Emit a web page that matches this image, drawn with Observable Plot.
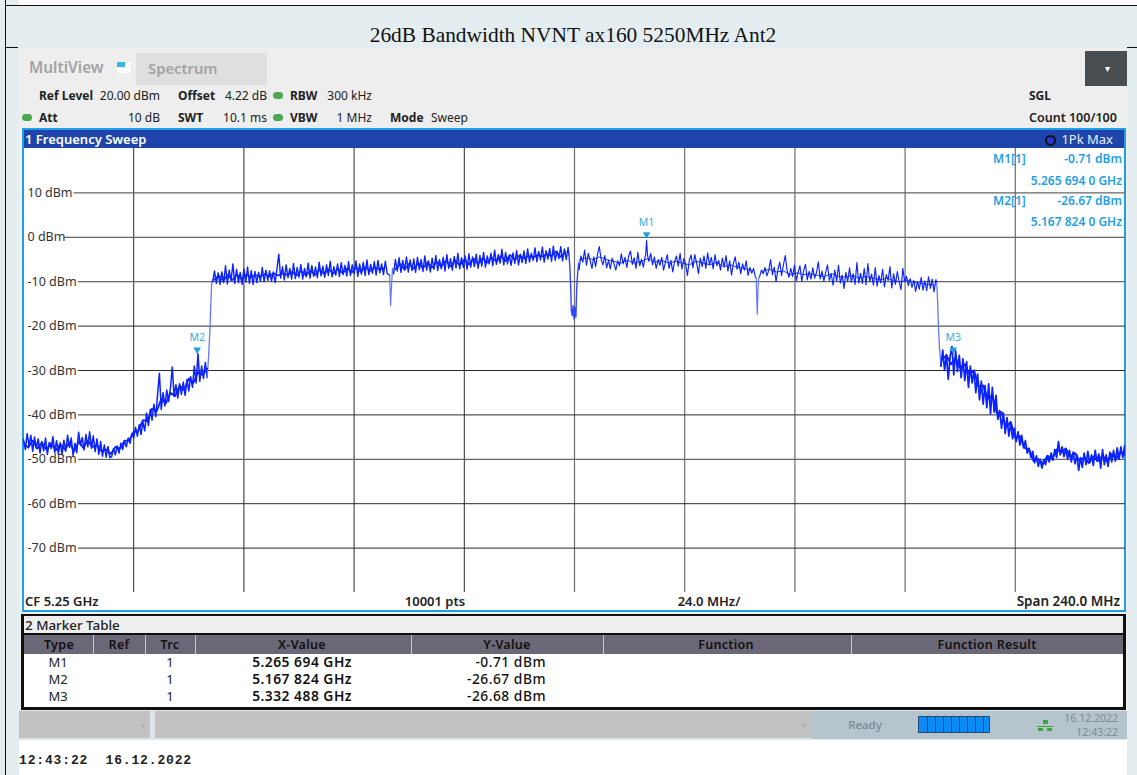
<!DOCTYPE html>
<html>
<head>
<meta charset="utf-8">
<script src="https://cdn.jsdelivr.net/npm/d3@7"></script>
<script src="https://cdn.jsdelivr.net/npm/@observablehq/plot@0.6"></script>
<style>
html,body{margin:0;padding:0;background:#fff;}
#page{position:relative;width:1137px;height:775px;overflow:hidden;font-family:"Noto Sans",sans-serif;font-size:12px;color:#222;}
#page div.b{position:absolute;}
#page div.t{position:absolute;white-space:pre;}
#chart{position:absolute;left:23px;top:148px;width:1102px;height:444px;}
#chart svg{display:block;}
</style>
</head>
<body>
<div id="page"></div>
<script>
// ---- Sweep setup
const freqDomain = [5130, 5370];
const levelDomain = [-80, 20];
const step = 0.4;

// ---- Trace excursions (dBm), one list per stretch of the sweep
const noiseStart = 5130;
const noiseLevels = [-45.5,-47.8,-44.2,-47,-44.6,-48.2,-45,-47.5,-45.4,-48.6,-46,-48.1,-45.2,-48.9,-46.2,-47.6,-44.9,-48.4,-45.8,-48.8,-46.3,-48.9,-45.7,-48.2,-44.6,-47.3,-45.2,-49.1,-46.4,-48.5,-43.9,-46.8,-45.1,-47.9,-44.4,-47.2,-43.8,-47.5,-44.7,-48.3,-45.4,-48.9,-46,-49.3,-46.8,-49.5,-47.1,-49.6];
const rampStart = 5149.2;
const rampLevels = [-49.4,-47.6,-49.0,-47.0,-48.6,-46.4,-47.8,-45.8,-47.2,-45.2,-46.4,-44.2,-45.2,-42.8,-44.8,-42.2,-44.4,-41.6,-43.6,-39.6,-42.4,-38.8,-41.2,-37.6,-40.4,-35.4,-30.6,-38.8,-35.0,-38.0,-34.4,-37.0,-34.0,-29.2,-35.8,-33.2,-36.2,-33.0,-35.4,-32.6,-35.6,-32.0,-34.6,-31.4,-33.8,-29.0,-32.8,-26.2,-32.4,-29.0,-31.8,-28.2];
const edgeLeftFreq = [5170, 5170.3, 5170.6, 5170.8, 5171];
const edgeLeftLevels = [-31.6, -27, -21, -15, -9.8];
const plateauAStart = 5171.2;
const plateauALevels = [-10.0,-7.6,-10.4,-8.0,-10.6,-7.8,-10.2,-6.4,-10.5,-7.4,-9.8,-6.0,-10.4,-7.2,-10.2,-7.9,-10.6,-7.1,-10.1,-6.7,-10.4,-7.5,-10.6,-7.7,-10.2,-7.9,-9.9,-6.8,-10.0,-7.4,-9.7,-7.5,-9.9,-7.8,-10.2,-7.1,-3.8,-9.2,-6.6,-9.6,-6.2,-9.1,-7.0,-9.4,-5.9,-9.3,-6.8,-9.0,-6.1,-9.4,-7.0,-8.9,-5.8,-9.2,-6.4,-8.8,-6.7,-9.1,-5.6,-8.7,-6.5,-9.0,-6.2,-8.6,-5.4,-8.9,-6.6,-8.5,-6.0,-8.8,-5.7,-8.4,-6.3,-8.7,-5.5,-8.6,-6.2,-8.2,-5.3,-8.8,-6.0,-8.3,-5.6,-8.6,-5.1,-8.4,-6.1,-8.1,-5.5,-8.5,-5.2,-8.0,-6.0,-8.4,-5.4,-8.1];
const notchAFreq = [5209.75, 5209.95, 5210.15, 5210.35];
const notchALevels = [-8.6, -15.4, -11, -7];
const plateauBStart = 5210.6;
const plateauBLevels = [-8.2,-5.0,-7.6,-4.6,-7.9,-5.2,-7.4,-4.4,-7.8,-5.1,-7.5,-4.9,-7.9,-4.5,-7.3,-5.0,-7.7,-4.2,-7.4,-5.3,-7.8,-4.7,-7.2,-4.1,-7.5,-5.0,-7.1,-4.5,-7.6,-3.9,-7.0,-4.8,-7.4,-4.3,-6.9,-3.6,-7.1,-4.6,-6.8,-4.2,-7.2,-3.7,-6.7,-4.4,-6.6,-3.8,-7.0,-4.1,-6.5,-3.4,-6.7,-4.2,-6.0,-3.6,-6.4,-2.9,-6.1,-3.9,-5.8,-2.7,-6.2,-3.4,-6.0,-4.0,-6.3,-3.5,-5.9,-3.0,-6.2,-3.8,-5.7,-3.1,-5.9,-2.6,-5.6,-3.6,-5.2,-2.4,-5.5,-3.2,-5.1,-2.2,-5.6,-3.0,-4.9,-2.5,-5.4,-2.0,-5.2,-3.1,-4.8,-2.1,-5.3,-2.6,-5.0,-2.3];
const notchBFreq = [5248.8, 5249.0, 5249.2, 5249.3, 5249.5, 5249.7, 5249.9, 5250.1, 5250.3, 5250.5, 5250.7, 5250.9];
const notchBLevels = [-4, -7, -12, -16.5, -17.6, -15.4, -18.4, -15.8, -18, -11, -8, -5.8];
const plateauCStart = 5251;
const plateauCLevels = [-7.2,-4.2,-5.6,-2.9,-6.3,-3.6,-5.2,-7.0,-4.4,-6.6,-3.9,-2.1,-5.0,-6.2,-4.1,-6.9,-5.2,-7.1,-4.7,-6.0,-7.4,-5.3,-6.4,-3.7,-6.0,-4.5,-6.8,-4.2,-3.1,-6.1,-4.6,-7.0,-3.4,-6.4,-5.0,-6.7,-4.3];
const peakFreq = [5265.5, 5265.694, 5265.9];
const peakLevels = [-4, -0.71, -4];
const plateauDStart = 5266.2;
const plateauDLevels = [-5.4,-3.6,-6.2,-4.4,-7.0,-5.0,-6.3,-4.5,-7.4,-5.6,-3.9,-7.0,-5.2,-7.8,-5.5,-4.2,-6.5,-3.6,-7.2,-4.8,-6.0,-8.6,-5.1,-4.0,-6.9,-3.9,-5.8,-8.2,-4.7,-6.6,-4.2,-7.0,-3.5,-6.2,-4.5,-7.1,-3.9,-6.4,-5.2,-7.4,-4.7,-6.7,-4.1,-7.6,-5.3,-8.5,-5.9,-4.4,-7.2,-5.6,-8.2,-6.0,-7.4,-5.3,-8.6,-6.8,-8.1,-7.0,-9.0];
const notchCFreq = [5289.55, 5289.8, 5290.05];
const notchCLevels = [-9, -17.3, -9.5];
const plateauEStart = 5290.3;
const plateauELevels = [-8.9,-7.4,-8.2,-6.8,-8.7,-7.5,-5.0,-8.4,-6.7,-10.0,-7.3,-5.6,-8.6,-6.2,-4.1,-7.5,-9.0,-7.0,-8.8,-6.3,-9.8,-7.9,-6.4,-9.9,-7.5,-6.1,-9.6,-7.7,-9.4,-6.9,-9.2,-8.0,-5.5,-9.4,-7.6,-9.9,-7.9,-6.2,-9.7,-8.2,-10.8,-7.4,-9.9,-6.3,-10.3,-8.5,-11.5,-7.9,-10.0,-6.9,-10.1,-8.2,-10.6,-5.7,-10.3,-8.1,-10.4,-7.0,-10.7,-5.9,-10.0,-8.3,-10.8,-6.8,-11.0,-8.6,-10.3,-7.2,-11.2,-8.4,-9.7,-6.6,-11.4,-8.2,-10.6,-7.7,-9.9,-11.8,-7.0,-10.0,-8.8,-10.9,-9.3,-11.3,-9.7,-12.2,-10.0,-11.7,-9.0,-11.9,-9.8,-12.0,-8.9,-11.5,-9.4,-12.3,-9.5];
const edgeRightFreq = [5328.9, 5329.1, 5329.3, 5329.5];
const edgeRightLevels = [-10.2, -15, -21, -25];
const falloffStart = 5329.8;
const falloffLevels = [-29.0,-25.4,-30.0,-26.4,-32.0,-26.8,-24.6,-31.0,-25.6,-30.2,-26.6,-31.6,-27.4,-32.3,-28.0,-33.8,-29.0,-32.8,-30.0,-35.0,-30.8,-36.6,-32.4,-37.6,-33.4,-38.4,-33.0,-39.8,-33.8,-39.4,-35.6,-41.0,-39.0,-43.0,-39.6,-44.2,-40.6,-44.8,-41.8,-45.4,-43.0,-46.0,-43.8,-46.8,-44.6,-47.4,-45.8,-48.6,-47.5,-49.6,-48.2,-50.8,-49.2,-51.6,-50,-52,-50.2,-51.2,-49.2,-50.6,-48.6,-50.2,-47.8,-49.6,-46.0,-49.0,-47.2,-49.4,-47.6,-50.0,-48.0,-50.6,-48.4,-51.0,-49.0,-52.5,-49.6,-51.8,-48.6,-51.2,-48.2,-50.8,-49.0,-51.4,-48.0,-50.4,-48.8,-52,-47.8,-51.2,-49,-51.6,-48.4,-50.6,-48.0,-50.4,-47.4,-50.0,-47.2,-49.6,-47,-50.7];

// ---- Dense body of the trace (dBm), per MHz or per 1.5 MHz
const bodyLeftStart = 5130;
const bodyLeftLevels = [-46.2,-47.4,-45.8,-47.6,-46.2,-47.8,-46.4,-48,-46.6,-47.8,-46.2,-48.2,-46,-47.4,-45.8,-47.2,-46.8,-48.2,-47.8,-48.8,-47.2,-47.6,-45.8,-45.8,-43.8,-43.6,-41.2,-41.4,-38.6,-39.2,-36.4,-37.4,-35,-35.8,-33.4,-34.4,-31.8,-32.8,-30.4,-31,-29.6];
const bodyAStart = 5171.5;
const bodyALevels = [-9.6,-8.6,-9.8,-8.5,-9.6,-8.3,-9.5,-8.4,-9.0,-8.5,-8.9,-8.3,-8.8,-8.1,-8.6,-8.1,-8.5,-7.8,-8.6,-7.6,-8.6,-7.5,-8.5,-7.3,-8.3,-7.2,-8.2,-7.1,-8.1,-7.0,-7.9,-6.8,-7.8,-6.7,-7.6,-6.8,-7.2,-7.0];
const bodyBStart = 5211;
const bodyBLevels = [-7.2,-6.0,-7.3,-5.9,-7.1,-5.8,-7.0,-5.6,-6.8,-5.5,-6.6,-5.3,-6.5,-5.2,-6.3,-5.0,-6.1,-4.8,-6.0,-4.7,-5.7,-4.5,-5.5,-4.2,-5.3,-4.0,-5.1,-4.1,-4.7,-4.2,-4.5,-4.0,-4.3,-3.8,-4.2,-3.2,-4.4,-3.3];
const bodyCStart = 5251;
const bodyCLevels = [-5.2,-4.6,-5,-4.4,-5,-5.4,-5.8,-5.2,-5.8,-5.4,-4.8,-5.6,-5.2,-5.8,-5.4,-5.8,-6.2,-5.4,-5.8,-6.2,-5.6,-6.6,-6.2,-6.8,-7,-7.4];
const bodyDStart = 5291;
const bodyDLevels = [-7.6,-7.2,-7.8,-7.6,-8.4,-8,-8.4,-8.2,-8.6,-8.8,-8.2,-8.8,-9,-8.6,-9.2,-8.8,-9.2,-9.6,-9.2,-9.8,-10,-9.6,-10.2,-10.4,-10.6,-10.8];
const bodyFallStart = 5330;
const bodyFallLevels = [-27.6,-26.6,-28.6,-27.2,-29.4,-28.6,-30.8,-30,-33.6,-33.4,-36.4,-35.6,-39.6,-39.4,-42.8,-41.6,-45.2,-44.8,-47.4,-47.8,-50.4,-50,-51,-49.2,-49.8,-47.8,-48.4,-47.6,-49.4,-48.6,-50.4,-49.6,-50.8,-49.4,-50.4,-49.2,-50.4,-48.8,-49.8,-48.4,-49.2];

// ---- Markers
const markerNames = ["M1", "M2", "M3"];
const markerGHz = ["5.265 694 GHz", "5.167 824 GHz", "5.332 488 GHz"];
const markerFreq = [5265.694, 5167.824, 5332.488];
const markerLevel = [-0.71, -26.67, -26.68];
const markerLevelText = ["-0.71 dBm", "-26.67 dBm", "-26.68 dBm"];

// ---- Grid
const levelTicks = [10, 0, -10, -20, -30, -40, -50, -60, -70];
const levelTicksDark = [-20, -30, -40, -60, -70];
const levelTicksGrey = [10, 0, -10, -50];
const freqTicksDark = [5154, 5178, 5202, 5226];
const freqTicksGrey = [5250, 5274, 5298, 5322, 5346];

const run = (start, levels, st = step) => levels.map((y, i) => ({f: start + i * st, y}));
const pts = (fs, levels) => fs.map((f, i) => ({f, y: levels[i]}));
const markers = markerNames.map((name, i) => ({name, f: markerFreq[i], y: markerLevel[i]}));
const gridStart = d => d === 0 ? 5139 : d > 0 ? 5141 : 5142;
const traceBlue = "#0a22ff", edgeBlue = "#6478ff";
const seg = (data, w, c = traceBlue) => Plot.line(data, {x: "f", y: "y", stroke: c, strokeWidth: w, curve: "linear"});

// one continuous sweep, its stretches joined end to end, dense ones drawn heavier
const stretches = [
  {data: [...run(noiseStart, noiseLevels), ...run(rampStart, rampLevels)], w: 1.5, c: traceBlue},
  {data: pts(edgeLeftFreq, edgeLeftLevels), w: 1.3, c: edgeBlue},
  {data: run(plateauAStart, plateauALevels), w: 1.4, c: traceBlue},
  {data: pts(notchAFreq, notchALevels), w: 1.2, c: edgeBlue},
  {data: run(plateauBStart, plateauBLevels), w: 1.4, c: traceBlue},
  {data: pts(notchBFreq, notchBLevels), w: 1.4, c: "#3048ff"},
  {data: [...run(plateauCStart, plateauCLevels), ...pts(peakFreq, peakLevels), ...run(plateauDStart, plateauDLevels)], w: 1.15, c: traceBlue},
  {data: pts(notchCFreq, notchCLevels), w: 1.2, c: edgeBlue},
  {data: run(plateauEStart, plateauELevels), w: 1.15, c: traceBlue},
  {data: pts(edgeRightFreq, edgeRightLevels), w: 1.3, c: edgeBlue},
  {data: run(falloffStart, falloffLevels), w: 1.7, c: traceBlue}
];
const traceMarks = stretches.map((s, i) =>
  seg(i < stretches.length - 1 ? [...s.data, stretches[i + 1].data[0]] : s.data, s.w, s.c));

const page = document.getElementById("page");
const box = (x, y, w, h, bg, extra = "") => {
  const e = document.createElement("div");
  e.className = "b";
  e.style.cssText = `left:${x}px;top:${y}px;width:${w}px;height:${h}px;background:${bg};${extra}`;
  page.appendChild(e);
  return e;
};
// text: x is the left edge, or the right edge with align "r", or the centre with align "c"; y is the text's middle
const txt = (s, x, y, o = {}) => {
  const e = document.createElement("div");
  e.className = "t";
  e.textContent = s;
  const lh = o.lh || 16;
  const tf = o.align === "r" ? "translateX(-100%)" : o.align === "c" ? "translateX(-50%)" : "none";
  e.style.cssText = `left:${x}px;top:${y - lh / 2}px;height:${lh}px;line-height:${lh}px;transform:${tf};font-size:${o.size || 12}px;font-weight:${o.w || 400};color:${o.c || "#222"};${o.css || ""}`;
  page.appendChild(e);
};

// ---- Page surround
const surround = "#e4eef1";
box(0, 0, 19, 775, surround);
box(0, 5, 1137, 43, surround);
box(1127, 5, 10, 770, surround);
box(5, 0, 1, 775, "#111");
box(5, 5, 1132, 1, "#111");
box(5, 47, 13, 1, "#111");
box(1127, 47, 10, 1, "#111");
txt("26dB Bandwidth NVNT ax160 5250MHz Ant2", 573, 35, {size: 21.4, lh: 24, align: "c", c: "#111", css: 'font-family:"Liberation Serif",serif;'});

// ---- Instrument panel
box(19, 48, 1108, 662, "#eeeeee");
txt("MultiView", 29, 68, {size: 15.4, lh: 20, w: 600, c: "#a3a3a3"});
box(117, 62, 8, 5, "#35b6ef"); box(125, 62, 6, 5, "#fff"); box(117, 68, 14, 5, "#fff");
box(136, 53, 131, 32, "#dfdfdf");
txt("Spectrum", 148, 68, {size: 14.8, lh: 20, w: 600, c: "#a3a3a3"});
box(1085, 51, 42, 35, "#474d50");
txt("\u25BE", 1107, 68, {size: 10, c: "#fff", align: "c"});

const led = (x, y) => box(x, y, 10, 7, "#4aa84f", "border-radius:4px;");
txt("Ref Level", 39, 96, {w: 700});
txt("20.00 dBm", 160, 96, {align: "r"});
txt("Offset", 178, 96, {w: 700});
txt("4.22 dB", 267, 96, {align: "r"});
led(273, 92);
txt("RBW", 290, 96, {w: 700});
txt("300 kHz", 372, 96, {align: "r"});
led(22, 114);
txt("Att", 39, 118, {w: 700});
txt("10 dB", 160, 118, {align: "r"});
txt("SWT", 178, 118, {w: 700});
txt("10.1 ms", 267, 118, {align: "r"});
led(273, 114);
txt("VBW", 290, 118, {w: 700});
txt("1 MHz", 372, 118, {align: "r"});
txt("Mode", 390, 118, {w: 700});
txt("Sweep", 431, 118);
txt("SGL", 1029, 96, {w: 700});
txt("Count 100/100", 1029, 118, {size: 12.5, w: 600});

// ---- Sweep window frame
box(22, 128, 1104, 484, "#1e9fe6");
box(24, 130, 1100, 18, "#1f45ac");
box(24, 148, 1100, 462, "#ffffff");
txt("1 Frequency Sweep", 25, 139, {w: 600, size: 13, c: "#fff"});
box(1045, 135, 7, 7, "#2338d8", "border:2px solid #111;border-radius:50%;");
txt("1Pk Max", 1113, 139, {size: 13, c: "#e8ecf8", align: "r"});

// ---- The chart
const chart = Plot.plot({
  width: 1102, height: 444,
  marginTop: 0, marginRight: 0, marginBottom: 0, marginLeft: 0,
  x: {domain: freqDomain, axis: null},
  y: {domain: levelDomain, axis: null},
  style: {background: "transparent", fontFamily: '"Noto Sans",sans-serif', fontSize: "12.5px", color: "#333"},
  marks: [
    Plot.ruleX(freqTicksDark, {x: d => d, y1: levelDomain[0], y2: levelDomain[1], stroke: "#2a2a2a", strokeWidth: 1}),
    Plot.ruleX(freqTicksGrey, {x: d => d, y1: levelDomain[0], y2: levelDomain[1], stroke: "#6e6e6e", strokeWidth: 1.2}),
    Plot.ruleY(levelTicksDark, {y: d => d, x1: gridStart, x2: freqDomain[1], stroke: "#2a2a2a", strokeWidth: 1}),
    Plot.ruleY(levelTicksGrey, {y: d => d, x1: gridStart, x2: freqDomain[1], stroke: "#666", strokeWidth: 1.2}),
    Plot.axisY(levelTicks, {anchor: "left", tickSize: 0, tickPadding: -4, textAnchor: "start", tickFormat: d => `${d} dBm`, label: null}),
    ...traceMarks,
    seg(run(bodyLeftStart, bodyLeftLevels, 1), 1.8),
    seg(run(bodyAStart, bodyALevels, 1), 1.6),
    seg(run(bodyBStart, bodyBLevels, 1), 1.6),
    seg(run(bodyCStart, bodyCLevels, 1.5), 0.9),
    seg(run(bodyDStart, bodyDLevels, 1.5), 0.9),
    seg(run(bodyFallStart, bodyFallLevels, 1), 2),
    Plot.dot(markers, {x: "f", y: "y", symbol: "triangle", r: 2.8, rotate: 180, fill: "#1e9fe6", stroke: "none", dy: -6}),
    Plot.text(markers, {x: "f", y: "y", text: "name", dy: -18, fill: "#35b0e6", fontSize: 10.5})
  ]
});
const holder = document.createElement("div");
holder.id = "chart";
holder.appendChild(chart);
page.appendChild(holder);

// ---- Marker read-outs
const blue = "#1e9fe6";
txt("M1[1]", 993, 159, {w: 600, c: blue});
txt(markerLevelText[0], 1122, 159, {w: 600, c: blue, align: "r"});
txt("5.265 694 0 GHz", 1122, 181, {w: 600, c: blue, align: "r"});
txt("M2[1]", 993, 201, {w: 600, c: blue});
txt(markerLevelText[1], 1122, 201, {w: 600, c: blue, align: "r"});
txt("5.167 824 0 GHz", 1122, 222, {w: 600, c: blue, align: "r"});

// ---- Sweep footer
txt("CF 5.25 GHz", 25, 601, {w: 600, size: 13});
txt("10001 pts", 435, 601, {w: 600, size: 13, align: "c"});
txt("24.0 MHz/", 709, 601, {w: 600, size: 13, align: "c"});
txt("Span 240.0 MHz", 1120, 601, {w: 600, size: 13.5, align: "r"});

// ---- Marker table
box(21, 614, 1105, 96, "#111");
box(24, 616, 1099, 17, "#eeeeee");
txt("2 Marker Table", 25, 625, {size: 13.4, w: 500});
box(24, 635, 1099, 19, "#6a6876");
box(24, 654, 1099, 53, "#ffffff");
[93, 145, 195, 411, 603, 851].forEach(x => box(x, 635, 1, 19, "#c6c6cc"));
const head = {w: 600, size: 12.6, lh: 14, align: "c", c: "#111", css: "letter-spacing:0.25px;"};
txt("Type", 59, 644.5, head);
txt("Ref", 119, 644.5, head);
txt("Trc", 170, 644.5, head);
txt("X-Value", 302, 644.5, head);
txt("Y-Value", 507, 644.5, head);
txt("Function", 726, 644.5, head);
txt("Function Result", 987, 644.5, head);
[661.5, 678.5, 695.5].forEach((y, i) => {
  txt(markerNames[i], 58, y, {size: 13, lh: 14, align: "c"});
  txt("1", 170, y, {size: 13, lh: 14, align: "c"});
  txt(markerGHz[i], 352, y, {size: 13.8, lh: 14, w: 600, align: "r", c: "#111", css: "letter-spacing:0.5px;"});
  txt(markerLevelText[i], 546, y, {size: 13.8, lh: 14, w: 500, align: "r", c: "#111", css: "letter-spacing:0.5px;"});
});

// ---- Status bar
box(19, 710, 1108, 30, "#dfe6ea");
box(19, 711, 131, 27, "#c2c2c2");
box(155, 711, 656, 27, "#c2c2c2");
box(811, 711, 316, 28, "#b5c4cd");
txt("\u25BF", 143, 725, {size: 8, c: "#999", align: "c"});
txt("\u25BF", 804, 725, {size: 8, c: "#999", align: "c"});
txt("Ready", 865, 725, {size: 11.5, w: 500, c: "#7a8a93", align: "c"});
box(919, 717, 70, 15, "#0b8cf5", "outline:1px solid #234a70;");
[927, 935, 943, 951, 959, 967, 975, 983].forEach(x => box(x, 717, 1, 15, "#234a70"));
box(1043, 720, 5, 4, "#3ba53b"); box(1037, 726, 16, 1, "#3ba53b"); box(1038, 728, 5, 3, "#3ba53b"); box(1047, 728, 5, 3, "#3ba53b");
txt("16.12.2022", 1118, 718, {size: 10.5, lh: 13, c: "#7d8b94", align: "r"});
txt("12:43:22", 1118, 732, {size: 10.5, lh: 13, c: "#7d8b94", align: "r"});

// ---- Print stamp
txt("12:43:22  16.12.2022", 19, 761, {size: 13, w: 700, c: "#222", css: 'font-family:"Liberation Mono",monospace;letter-spacing:0.85px;'});
</script>
</body>
</html>
